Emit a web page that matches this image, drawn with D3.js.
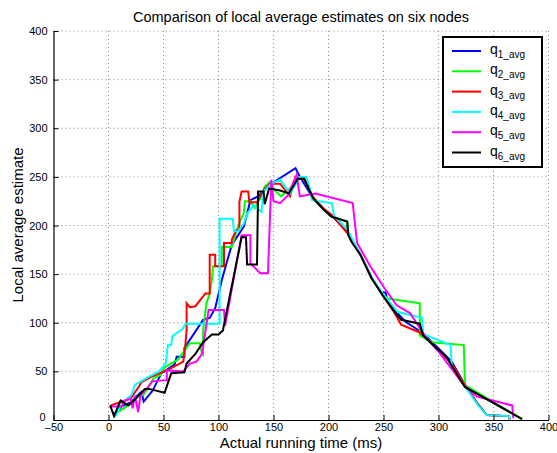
<!DOCTYPE html>
<html>
<head>
<meta charset="utf-8">
<script src="https://cdn.jsdelivr.net/npm/d3@7"></script>
<style>
  body { margin: 0; background: #fff; }
  text { font-family: "Liberation Sans", Arial, sans-serif; fill: #000; }
</style>
</head>
<body>
<svg width="557" height="453"></svg>
<script>
const xTicks = [-50, 0, 50, 100, 150, 200, 250, 300, 350, 400];
const yTicks = [0, 50, 100, 150, 200, 250, 300, 350, 400];
const names = ['1', '2', '3', '4', '5', '6'];
const colors = ['#0000ff', '#00ff00', '#ff0000', '#00ffff', '#ff00ff', '#000000'];

// [time, estimate]
const q1 = [[4,8],[6,5],[12,14],[20,18],[28,27],[30,29],[32,19],[40,30],[48,48],[60,57],[62,65],[69,65],[69,74],[86,103],[92,105],[97,115],[103,144],[112,180],[123,199],[126,212],[129,226],[136,230],[148,243],[170,259],[174,250],[186,228],[196,216],[205,208],[218,192],[229,170],[239,147],[248,131],[252,131],[253,124],[260,113],[270,101],[285,90],[298,76],[312,60],[323,38],[336,16],[344,5],[364,4],[365,0]];
const q2 = [[7,7],[18,15],[27,24],[32,26],[41,43],[47,46],[51,54],[63,62],[74,79],[83,79],[85,68],[86,67],[86,92],[89,120],[92,130],[94,144],[95,158],[103,158],[103,178],[112,178],[118,200],[123,213],[124,225],[129,225],[133,218],[138,228],[142,240],[147,245],[152,235],[157,230],[165,238],[172,248],[178,248],[186,228],[196,216],[203,209],[217,204],[218,191],[229,170],[239,146],[250,128],[254,125],[283,120],[283,87],[294,80],[323,77],[324,36],[376,1]];
const q3 = [[2,15],[10,18],[20,22],[28,35],[30,39],[40,45],[55,52],[68,60],[70,79],[71,92],[71,120],[74,116],[79,117],[86,127],[88,130],[92,130],[92,170],[97,170],[97,158],[105,158],[105,182],[112,182],[112,185],[116,195],[119,195],[119,224],[121,235],[127,235],[128,224],[135,224],[142,238],[147,243],[156,243],[165,230],[170,250],[174,248],[178,247],[186,229],[196,217],[204,210],[218,191],[229,170],[239,146],[250,127],[259,112],[266,98],[283,90],[286,87],[298,74],[312,58],[323,38],[336,16],[344,5],[364,4],[365,0]];
const q4 = [[6,3],[9,10],[13,18],[21,26],[24,36],[36,44],[46,50],[52,58],[54,77],[57,77],[58,86],[65,92],[67,93],[70,99],[101,99],[101,207],[113,207],[114,194],[118,194],[123,202],[126,212],[132,221],[139,214],[141,235],[148,243],[156,247],[165,233],[174,250],[180,250],[183,238],[185,226],[203,223],[205,210],[217,196],[229,170],[239,147],[250,129],[263,111],[285,105],[286,88],[289,87],[311,77],[312,55],[323,36],[336,15],[344,5],[364,4],[365,0]];
const q5 = [[1,14],[12,14],[15,20],[20,22],[22,12],[24,25],[27,8],[29,25],[36,34],[40,40],[53,41],[53,51],[68,50],[74,58],[80,60],[85,68],[91,113],[105,113],[106,97],[121,190],[129,190],[129,161],[138,151],[145,151],[148,247],[150,225],[156,223],[163,231],[171,252],[174,230],[188,233],[222,223],[226,182],[238,158],[250,137],[262,118],[274,110],[288,86],[301,69],[323,36],[335,24],[367,15],[368,2]];
const q6 = [[1.5,15],[5,4],[11,20],[18,15],[24,21],[33,32],[37,32],[51,28],[57,48],[69,49],[71,58],[79,68],[86,80],[94,88],[100,88],[104,92],[121,188],[125,188],[126,160],[135,160],[136,235],[141,235],[142,222],[146,238],[156,236],[164,233],[172,248],[178,248],[186,228],[196,216],[203,209],[217,204],[218,190],[221,183],[229,170],[239,146],[250,127],[259,113],[266,103],[283,99],[286,87],[298,74],[307,65],[324,34],[376,1]];
const series = [q1, q2, q3, q4, q5, q6];

const svg = d3.select('svg');
svg.append('rect').attr('width', 557).attr('height', 453).attr('fill', '#fff');

const x = d3.scaleLinear().domain([-50, 400]).range([53.5, 548.5]);
const y = d3.scaleLinear().domain([0, 400]).range([420, 31]);

// grid
const grid = svg.append('g');
grid.selectAll('line.gx')
    .data(xTicks.slice(1))
    .join('line')
    .attr('x1', d => x(d)).attr('x2', d => x(d))
    .attr('y1', y(0)).attr('y2', y(400))
    .attr('stroke', '#8a8a8a').attr('stroke-width', 1)
    .attr('stroke-dasharray', '1 3');
grid.selectAll('line.gy')
    .data(yTicks.slice(1))
    .join('line')
    .attr('x1', x(-50)).attr('x2', x(400))
    .attr('y1', d => y(d)).attr('y2', d => y(d))
    .attr('stroke', '#8a8a8a').attr('stroke-width', 1)
    .attr('stroke-dasharray', '1 3');

// lines
const line = d3.line().x(d => x(d[0])).y(d => y(d[1]));
svg.append('g').selectAll('path')
    .data(series)
    .join('path')
    .attr('d', line)
    .attr('fill', 'none')
    .attr('stroke', (d, i) => colors[i])
    .attr('stroke-width', 2);

// axes
const xAxis = svg.append('g')
    .attr('transform', `translate(0, ${y(0)})`)
    .call(d3.axisBottom(x).tickValues(xTicks).tickSizeInner(-5).tickSizeOuter(0).tickPadding(3)
        .tickFormat(d => d < 0 ? '\u2013' + Math.abs(d) : d));
const yAxis = svg.append('g')
    .attr('transform', `translate(${x(-50)}, 0)`)
    .call(d3.axisLeft(y).tickValues(yTicks).tickSizeInner(-5).tickSizeOuter(0).tickPadding(6));
[xAxis, yAxis].forEach(a => {
    a.select('.domain').attr('stroke', '#000').attr('stroke-width', 1.2);
    a.selectAll('.tick line').attr('stroke', '#000');
    a.selectAll('.tick text').attr('font-size', 11).attr('font-family', '"Liberation Sans", Arial, sans-serif');
});
yAxis.selectAll('.tick text').filter(d => d === 0).attr('dy', '0.05em').attr('x', -8);

// titles
svg.append('text')
    .attr('x', 301).attr('y', 22)
    .attr('text-anchor', 'middle').attr('font-size', 14.5)
    .text('Comparison of local average estimates on six nodes');
svg.append('text')
    .attr('x', 301).attr('y', 448)
    .attr('text-anchor', 'middle').attr('font-size', 15)
    .text('Actual running time (ms)');
svg.append('text')
    .attr('transform', 'translate(23, 225) rotate(-90)')
    .attr('text-anchor', 'middle').attr('font-size', 15)
    .text('Local average estimate');

// legend
const legend = svg.append('g');
legend.append('rect')
    .attr('x', 443).attr('y', 37).attr('width', 99).attr('height', 130)
    .attr('fill', '#fff').attr('stroke', '#000').attr('stroke-width', 2);
const item = legend.selectAll('g.item')
    .data(names)
    .join('g')
    .attr('transform', (d, i) => `translate(0, ${51 + i * 20.3})`);
item.append('line')
    .attr('x1', 452).attr('x2', 481)
    .attr('stroke', (d, i) => colors[i]).attr('stroke-width', 2);
const lab = item.append('text')
    .attr('x', 490).attr('y', 3)
    .attr('font-size', 14);
lab.append('tspan').text('q');
lab.append('tspan').attr('dy', 4).attr('font-size', 10).text(d => d + '_avg');
</script>
</body>
</html>
